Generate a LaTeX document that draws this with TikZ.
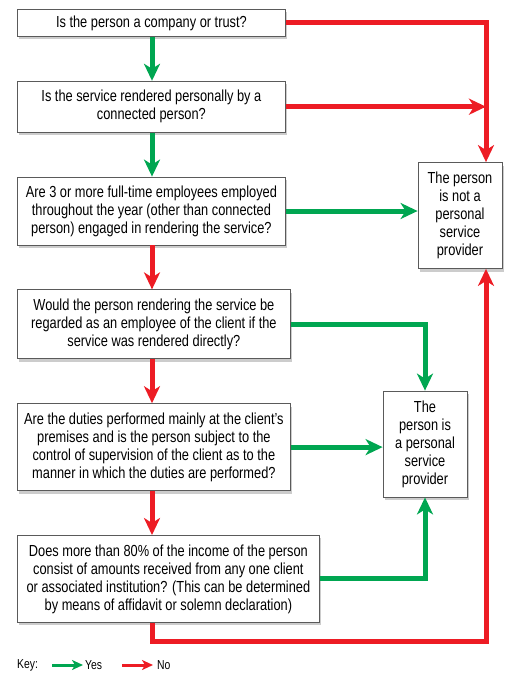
\documentclass[tikz,border=0pt]{standalone}
\usepackage{fontspec}
\setmainfont{Liberation Sans}[FakeStretch=0.8]
\usepackage{tikz}
\usetikzlibrary{arrows.meta,positioning,shadows}
\definecolor{yesGreen}{RGB}{0,166,81}
\definecolor{noRed}{RGB}{237,28,36}
\definecolor{boxLine}{RGB}{90,90,90}

\begin{document}
\begin{tikzpicture}[
    x=1pt, y=-1pt,
    node distance=44pt,
    question/.style={
        rectangle, draw=boxLine, line width=0.8pt, fill=white,
        font=\fontsize{16}{18}\selectfont, align=center,
        inner xsep=2pt, inner ysep=2pt,
        drop shadow={shadow xshift=2pt, shadow yshift=-3pt, opacity=0.4}
    },
    outcome/.style={question, minimum width=84pt, minimum height=106pt},
    keytext/.style={font=\fontsize{13}{15}\selectfont, inner sep=2pt},
    yes/.style={-{Stealth[length=17pt,width=16pt,inset=5pt]}, line width=5pt, draw=yesGreen},
    no/.style={yes, draw=noRed},
    keyarrow/.style={-{Stealth[length=11pt,width=10pt,inset=3pt]}, line width=3pt}
]
\useasboundingbox (0,0) rectangle (510,686);

% questions, left column
\node[question, minimum width=268pt, minimum height=27pt, anchor=north west] (company) at (17,9) {Is the person a company or trust?};
\node[question, minimum width=268pt, minimum height=51pt, below=of company.south west, anchor=north west] (connected) {Is the service rendered personally by a\\connected person?};
\node[question, minimum width=268pt, minimum height=68pt, below=of connected.south west, anchor=north west] (staff) {Are 3 or more full-time employees employed\\throughout the year (other than connected\\person) engaged in rendering the service?};
\node[question, minimum width=273pt, minimum height=69pt, below=of staff.south west, anchor=north west] (employee) {Would the person rendering the service be\\regarded as an employee of the client if the\\service was rendered directly?};
\node[question, minimum width=273pt, minimum height=87pt, below=of employee.south west, anchor=north west] (premises) {Are the duties performed mainly at the client’s\\premises and is the person subject to the\\control of supervision of the client as to the\\manner in which the duties are performed?};
\node[question, minimum width=302pt, minimum height=87pt, below=of premises.south west, anchor=north west] (income) {Does more than 80\% of the income of the person\\consist of amounts received from any one client\\or associated institution? (This can be determined\\by means of affidavit or solemn declaration)};

% outcomes
\node[outcome] (notpsp) at (460,215.5) {The person\\is not a\\personal\\service\\provider};
\node[outcome] (psp) at (425,444) {The\\person is\\a personal\\service\\provider};

\coordinate (spine) at (152,0);
\coordinate (rail) at (486,0);
\coordinate (loop) at (486,641);

% down the left column
\draw[yes] (company.south -| spine) -- (connected.north -| spine);
\draw[yes] (connected.south -| spine) -- (staff.north -| spine);
\draw[no] (staff.south -| spine) -- (employee.north -| spine);
\draw[no] (employee.south -| spine) -- (premises.north -| spine);
\draw[no] (premises.south -| spine) -- (income.north -| spine);

% across to the outcomes
\draw[no] (company.east) -| (notpsp.north -| rail);
\draw[no] (connected.east) -- (connected.east -| rail);
\draw[yes] (staff.east) -- (staff.east -| notpsp.west);
\draw[yes] (employee.east) -| (psp.north);
\draw[yes] (premises.east) -- (premises.east -| psp.west);
\draw[yes] (income.east) -| (psp.south);
\draw[no] (income.south -| spine) |- (loop) -- (notpsp.south -| loop);

% key
\node[keytext, anchor=west] (key) at (15,665) {Key:};
\node[keytext, anchor=west] (keyyes) at (83,665) {Yes};
\node[keytext, anchor=west] (keyno) at (155,665) {No};
\draw[keyarrow, yesGreen] ([xshift=12pt]key.east) -- (keyyes.west);
\draw[keyarrow, noRed, shorten >=2pt] ([xshift=18pt]keyyes.east) -- (keyno.west);

\end{tikzpicture}
\end{document}
